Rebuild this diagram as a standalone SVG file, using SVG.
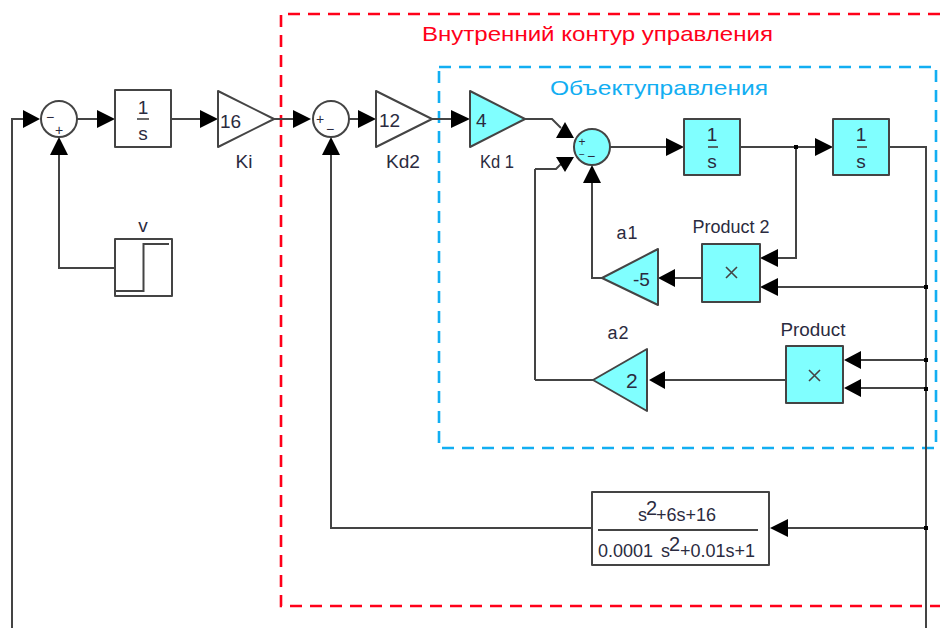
<svg xmlns="http://www.w3.org/2000/svg" width="940" height="628" viewBox="0 0 940 628">
<style>
text{font-family:"Liberation Sans",Arial,sans-serif;fill:#2b2b40;font-size:17px}
.m{text-anchor:middle}
.w{fill:#fff;stroke:#444;stroke-width:2;stroke-linejoin:round}
.c{fill:#80ffff;stroke:#444;stroke-width:2;stroke-linejoin:round}
.l{fill:none;stroke:#444;stroke-width:2}
.a{fill:#000;stroke:none}
.d{fill:#000}
.bar{stroke:#444;stroke-width:1.6}
.s{font-size:14px}
.n{font-size:19px}
.t{font-size:18px}
</style>
<rect width="940" height="628" fill="#fff"/>
<g id="frames" fill="none" stroke-width="2.6" stroke-dasharray="12 8">
<path d="M940 14H281V606H940" stroke="#ff0019"/>
<path d="M439 67H936V448H439Z" stroke="#12aef2"/>
</g>
<text x="422" y="41" style="fill:#ff0019;font-size:21px" textLength="351" lengthAdjust="spacingAndGlyphs">Внутренний контур управления</text>
<text x="550" y="95" style="fill:#12aef2;font-size:21px" textLength="218" lengthAdjust="spacingAndGlyphs">Объектуправления</text>
<g id="connectors">
<path class="l" d="M12 628V119H25M77 119H100M171 119H200M274 119H295M349 119H360M432 119H455M525 119H552L561 128M535 169H556L563 162M535 380V169M593 380H535M610 147H668M740 147H818M889 147H926V628M796 147V258H776M926 287H776M702 278H673M602 278H592V180M786 380H663M926 360H859M926 388H859M926 528H786M592 528H331V152M115 268H59V152"/>
<path class="a" d="M40 119L23 110V128ZM115 119L97 110V128ZM218 119L200 110V128ZM311 119L293 110V128ZM376 119L358 110V128ZM470 119L451 110V128ZM565 122L556 138H574ZM565 172L556 157H574ZM592 165L583 183H601ZM684 147L666 138V156ZM833 147L815 138V156ZM760 258L778 249V267ZM760 287L778 278V296ZM658 278L675 269V287ZM649 380L665 371V389ZM844 360L861 351V369ZM844 388L861 379V397ZM770 528L788 519V537ZM331 137L322 155H340ZM59 137L50 155H68Z"/>
<path class="d" d="M794 145h4v4h-4zM924 285h4v4h-4zM924 358h4v4h-4zM924 387h4v4h-4zM924 526h4v4h-4z"/>
</g>
<g id="sum1"><circle class="w" cx="59" cy="119" r="18"/><text class="m s" x="50" y="122">−</text><text class="m s" x="59" y="135">+</text></g>
<g id="integrator0"><rect class="w" x="115" y="90" width="56" height="57"/><text class="m n" x="143" y="114">1</text><path class="bar" d="M137 119H149"/><text class="m n" x="143" y="140">s</text></g>
<g id="Ki"><path class="w" d="M218 91V147L274 119Z"/><text class="n" x="220" y="128">16</text><text class="m n" x="244" y="168">Ki</text></g>
<g id="v"><text class="m n" x="143" y="232">v</text><rect class="w" x="115" y="239" width="57" height="57"/><path class="l" d="M115 291H143.500V244H169"/></g>
<g id="sum2"><circle class="w" cx="331" cy="119" r="18"/><text class="m s" x="320" y="124">+</text><text class="m s" x="330" y="134">−</text></g>
<g id="Kd2"><path class="w" d="M376 91V147L432 119Z"/><text class="n" x="379" y="127">12</text><text class="m n" x="403" y="168" textLength="34" lengthAdjust="spacingAndGlyphs">Kd2</text></g>
<g id="Kd1"><path class="c" d="M470 91V147L525 119Z"/><text class="n" x="476" y="127">4</text><text class="m n" x="497" y="168" textLength="34" lengthAdjust="spacingAndGlyphs">Kd 1</text></g>
<g id="sum3"><circle class="c" cx="592" cy="147" r="18"/><text class="m" x="582" y="146" style="font-size:12px">+</text><text class="m" x="582" y="158" style="font-size:10px">−</text><text class="m s" x="591" y="161">−</text></g>
<g id="int1"><rect class="c" x="684" y="119" width="56" height="56"/><text class="m n" x="712" y="141">1</text><path class="bar" d="M708 147H718"/><text class="m n" x="712" y="168">s</text></g>
<g id="int2"><rect class="c" x="833" y="119" width="56" height="56"/><text class="m n" x="861" y="141">1</text><path class="bar" d="M857 147H867"/><text class="m n" x="861" y="168">s</text></g>
<g id="product2"><text class="m t" x="731" y="233" textLength="77" lengthAdjust="spacingAndGlyphs">Product 2</text><rect class="c" x="702" y="244" width="58" height="58"/><path class="bar" d="M726 267L737 278M737 267L726 278"/></g>
<g id="a1"><text class="m t" x="627" y="239" word-spacing="-4">a 1</text><path class="c" d="M658 249V305L602 278Z"/><text class="n" x="633" y="286">-5</text></g>
<g id="product"><text class="m t" x="813" y="336" textLength="65" lengthAdjust="spacingAndGlyphs">Product</text><rect class="c" x="786" y="346" width="57" height="57"/><path class="bar" d="M809 370L820 381M820 370L809 381"/></g>
<g id="a2"><text class="m t" x="618" y="339" word-spacing="-4">a 2</text><path class="c" d="M647 349V411L593 380Z"/><text x="626" y="388" style="font-size:21px">2</text></g>
<g id="tf"><rect class="w" x="592" y="492" width="177" height="73"/><path class="l" d="M598 530H758"/>
<text class="t" x="638" y="521">s</text><text x="646" y="515" style="font-size:20px">2</text><text class="t" x="656" y="521">+6s+16</text>
<text class="t" x="598" y="557">0.0001</text><text class="t" x="661" y="557">s</text><text x="669" y="551" style="font-size:20px">2</text><text class="t" x="680" y="557">+0.01s+1</text></g>
</svg>
